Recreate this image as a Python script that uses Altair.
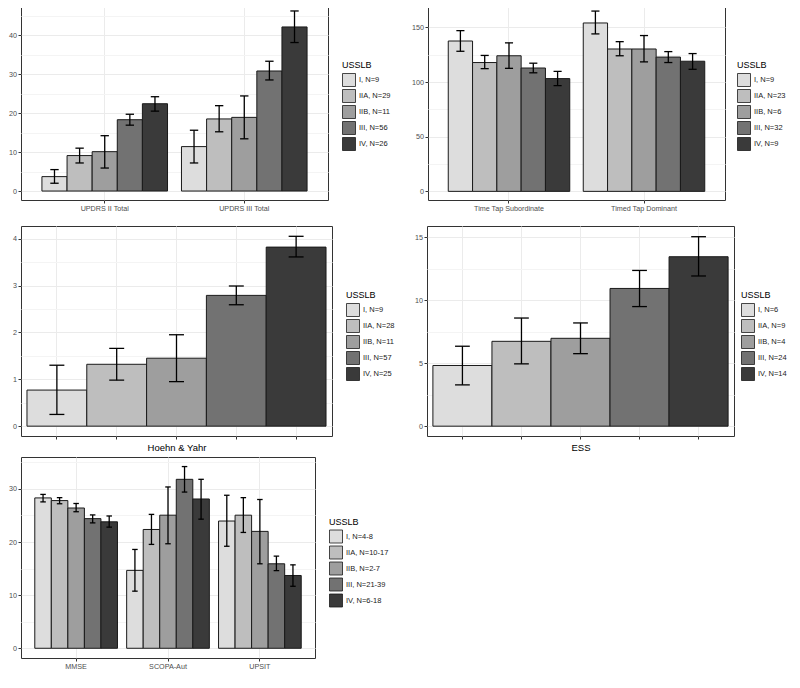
import altair as alt
import pandas as pd

FONT = "Liberation Sans"
GREYS = ["#DDDDDD", "#BEBEBE", "#9E9E9E", "#727272", "#3A3A3A"]
EDGE = "#1a1a1a"

# ---------------- data ----------------
# Panel 1: UPDRS
p1_measures = ["UPDRS II Total", "UPDRS III Total"]
p1_groups = ["I, N=9", "IIA, N=29", "IIB, N=11", "III, N=56", "IV, N=26"]
p1_mean = [[3.7, 9.1, 10.1, 18.3, 22.4], [11.4, 18.5, 18.9, 30.8, 42.1]]
p1_low = [[2.0, 7.2, 5.9, 16.9, 20.5], [7.2, 15.2, 13.4, 28.5, 38.1]]
p1_high = [[5.5, 11.0, 14.2, 19.7, 24.2], [15.6, 21.9, 24.4, 33.3, 46.2]]

# Panel 2: Timed tapping
p2_measures = ["Time Tap Subordinate", "Timed Tap Dominant"]
p2_groups = ["I, N=9", "IIA, N=23", "IIB, N=6", "III, N=32", "IV, N=9"]
p2_mean = [[137.6, 117.9, 124.1, 112.9, 103.2], [154.1, 130.3, 130.3, 122.9, 119.1]]
p2_low = [[128.2, 112.3, 112.6, 108.5, 96.7], [144.1, 124.1, 118.5, 117.9, 111.7]]
p2_high = [[147.1, 124.4, 135.9, 117.3, 109.9], [165.0, 137.0, 142.6, 127.9, 126.1]]

# Panel 3: Hoehn & Yahr
p3_groups = ["I, N=9", "IIA, N=28", "IIB, N=11", "III, N=57", "IV, N=25"]
p3_mean = [0.77, 1.32, 1.45, 2.79, 3.82]
p3_low = [0.25, 0.98, 0.95, 2.59, 3.61]
p3_high = [1.30, 1.66, 1.95, 2.99, 4.05]

# Panel 4: ESS
p4_groups = ["I, N=6", "IIA, N=9", "IIB, N=4", "III, N=24", "IV, N=14"]
p4_mean = [4.82, 6.74, 6.98, 10.94, 13.46]
p4_low = [3.28, 4.95, 5.76, 9.50, 11.93]
p4_high = [6.35, 8.59, 8.20, 12.37, 15.05]

# Panel 5: MMSE / SCOPA-Aut / UPSIT
p5_measures = ["MMSE", "SCOPA-Aut", "UPSIT"]
p5_groups = ["I, N=4-8", "IIA, N=10-17", "IIB, N=2-7", "III, N=21-39", "IV, N=6-18"]
p5_mean = [[28.3, 27.8, 26.4, 24.4, 23.8],
           [14.66, 22.36, 25.05, 31.8, 28.1],
           [23.95, 25.05, 22.0, 15.9, 13.7]]
p5_low = [[27.55, 27.2, 25.7, 23.6, 22.8],
          [10.75, 19.55, 19.67, 29.4, 24.3],
          [19.2, 21.8, 15.9, 14.6, 11.67]]
p5_high = [[28.96, 28.35, 27.25, 25.1, 24.9],
           [18.6, 25.2, 30.36, 34.2, 31.8],
           [28.8, 28.35, 28.0, 17.35, 15.7]]


def yaxis(values, major_test):
    return alt.Axis(
        values=values,
        title=None,
        format="~r",
        labelExpr=f"({major_test}) ? datum.label : ''",
        gridColor={"condition": {"test": major_test, "value": "#EBEBEB"}, "value": "#F4F4F4"},
        tickOpacity={"condition": {"test": major_test, "value": 1}, "value": 0},
    )


def legend(lx, ly):
    return alt.Legend(title="USSLB", orient="none", legendX=lx, legendY=ly)


def panel(df, xfield, xsort, groups, grouped, W, H, ydom, yvals, major_test,
          lx, ly, cap, xtitle=None):
    yscale = alt.Scale(domain=ydom, nice=False, zero=False)
    ya = yaxis(yvals, major_test)
    if grouped:
        xscale = alt.Scale(paddingInner=0.1, paddingOuter=0.15)
        xaxis = alt.Axis(labelAngle=0, grid=True, bandPosition=0.5, title=None)
    else:
        xscale = alt.Scale(paddingInner=0, paddingOuter=0.1)
        xaxis = alt.Axis(labels=False, grid=True, bandPosition=0.5, title=xtitle,
                         titleFontSize=9.5, titleFontWeight="normal", titleColor="black",
                         titleFont=FONT, titlePadding=3)
    x = alt.X(f"{xfield}:N", sort=xsort, scale=xscale, axis=xaxis, title=xtitle)
    enc_extra = {}
    if grouped:
        enc_extra["xOffset"] = alt.XOffset("USSLB:N", sort=groups,
                                           scale=alt.Scale(domain=groups, paddingInner=0, paddingOuter=0))
    color = alt.Color("USSLB:N", sort=groups,
                      scale=alt.Scale(domain=groups, range=GREYS), legend=legend(lx, ly))
    base = alt.Chart(df)
    bars = base.mark_bar(stroke=EDGE, strokeWidth=1).encode(
        x=x, y=alt.Y("mean:Q", scale=yscale, axis=ya, title=None),
        y2=alt.datum(0), color=color, **enc_extra)
    rule = base.mark_rule(color="black", strokeWidth=1.3).encode(
        x=x, y=alt.Y("low:Q", scale=yscale, axis=ya, title=None), y2="high:Q", **enc_extra)
    cap_lo = base.mark_tick(color="black", size=cap, thickness=1.3, opacity=1).encode(
        x=x, y=alt.Y("low:Q", scale=yscale, axis=ya, title=None), **enc_extra)
    cap_hi = base.mark_tick(color="black", size=cap, thickness=1.3, opacity=1).encode(
        x=x, y=alt.Y("high:Q", scale=yscale, axis=ya, title=None), **enc_extra)
    return alt.layer(bars, rule, cap_lo, cap_hi).properties(width=W, height=H)


def grouped_df(measures, groups, means, lows, highs):
    rows = []
    for i, m in enumerate(measures):
        for j, g in enumerate(groups):
            rows.append({"measure": m, "USSLB": g, "mean": means[i][j],
                         "low": lows[i][j], "high": highs[i][j]})
    return pd.DataFrame(rows)


def single_df(groups, means, lows, highs):
    return pd.DataFrame({"USSLB": groups, "mean": means, "low": lows, "high": highs})


H1, H3, H5 = 198, 210, 201
W1, W2, W3, W4, W5 = 307, 297, 311, 307, 294
LEG_H = 80

c1 = panel(grouped_df(p1_measures, p1_groups, p1_mean, p1_low, p1_high), "measure", p1_measures,
           p1_groups, True, W1, H1, [-2.3, 48.5], [0, 5, 10, 15, 20, 25, 30, 35, 40, 45],
           "datum.value % 10 === 0", W1 + 14, (H1 - LEG_H) / 2, W1 / 2.2 * 0.06)
c2 = panel(grouped_df(p2_measures, p2_groups, p2_mean, p2_low, p2_high), "measure", p2_measures,
           p2_groups, True, W2, H1, [-7.9, 173.3], [0, 25, 50, 75, 100, 125, 150],
           "datum.value % 50 === 0", W2 + 12, (H1 - LEG_H) / 2, W2 / 2.2 * 0.06)
c3 = panel(single_df(p3_groups, p3_mean, p3_low, p3_high), "USSLB", p3_groups,
           p3_groups, False, W3, H3, [-0.21, 4.27], [0, 0.5, 1, 1.5, 2, 2.5, 3, 3.5, 4],
           "datum.value % 1 === 0", W3 + 14, (H3 - LEG_H) / 2, W3 / 5.2 * 0.25, "Hoehn & Yahr")
c4 = panel(single_df(p4_groups, p4_mean, p4_low, p4_high), "USSLB", p4_groups,
           p4_groups, False, W4, H3, [-0.78, 15.9], [0, 2.5, 5, 7.5, 10, 12.5, 15],
           "datum.value % 5 === 0", W4 + 7, (H3 - LEG_H) / 2, W4 / 5.2 * 0.25, "ESS")
c5 = panel(grouped_df(p5_measures, p5_groups, p5_mean, p5_low, p5_high), "measure", p5_measures,
           p5_groups, True, W5, H5, [-1.83, 36.0], [0, 5, 10, 15, 20, 25, 30, 35],
           "datum.value % 10 === 0", W5 + 14, (H5 - LEG_H) / 2, W5 / 3.2 * 0.06)

res = dict(color="independent", x="independent", y="independent", xOffset="independent")
row1 = alt.hconcat(c1, c2, spacing=19).resolve_scale(**res)
row2 = alt.hconcat(c3, c4, spacing=18).resolve_scale(**res)
top2 = alt.vconcat(row1, row2, spacing=12).resolve_scale(**res)
chart = alt.vconcat(top2, c5, spacing=3).resolve_scale(**res).properties(
    padding={"left": 0, "top": -7, "right": 0, "bottom": 0}, background="white"
).configure_view(
    stroke="#333333", strokeWidth=1
).configure_axis(
    domain=False, tickColor="#333333", tickSize=3, tickWidth=1,
    labelFont=FONT, labelFontSize=7.2, labelColor="#4D4D4D", labelPadding=1.5,
    gridColor="#EBEBEB", gridWidth=1,
).configure_legend(
    titleFont=FONT, titleFontSize=9, titleFontWeight="normal", titleColor="black",
    labelFont=FONT, labelFontSize=7.5, labelColor="#1a1a1a", labelOffset=3,
    symbolType="square", symbolSize=169, symbolStrokeWidth=0.8, symbolStrokeColor=EDGE,
    symbolOpacity=1, rowPadding=-6, titlePadding=3, padding=0,
)

chart.save("out.html", embed_options={"renderer": "svg", "actions": False})
